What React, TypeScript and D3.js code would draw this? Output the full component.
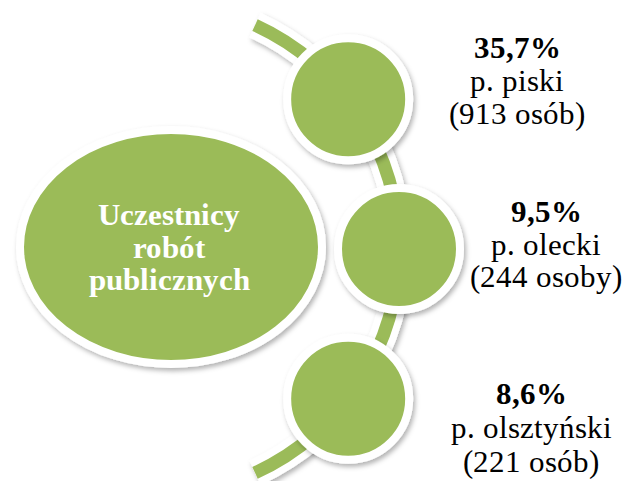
import React from "react";
import * as d3 from "d3";

const WIDTH = 623;
const HEIGHT = 481;

// Data
const centerTitle = ["Uczestnicy", "robót", "publicznych"];
const percents = ["35,7%", "9,5%", "8,6%"];
const districts = ["p. piski", "p. olecki", "p. olsztyński"];
const counts = ["(913 osób)", "(244 osoby)", "(221 osób)"];

// Layout
const GREEN = "#9BBB59";
const arcCx = 153;
const arcCy = 249;
const arcR = 246;
const circleAngles = [-37.5, 0, 37.5]; // degrees, screen (0 = right, positive down)
const circleR = 61;
const labelX = [517, 546, 531];
const labelY0 = [58, 222, 404];
const labelLine = [33, 32.5, 34];

const FONT_CSS = `
@font-face { font-family: "ChartSerif"; font-weight: 400; src: local("Liberation Serif"), local("LiberationSerif"), local("LiberationSerif-Regular"), local("Times New Roman"); }
@font-face { font-family: "ChartSerif"; font-weight: 700; src: local("Liberation Serif Bold"), local("LiberationSerif-Bold"), local("Times New Roman Bold"); }
.serif { font-family: "ChartSerif", "Liberation Serif", "Times New Roman", serif; }
`;

export default function App() {
  const toRad = (d: number) => (d * Math.PI) / 180;
  const outerBand = d3
    .arc()
    .innerRadius(arcR - 13.5)
    .outerRadius(arcR + 13.5)
    .startAngle(toRad(90 - 65.5))
    .endAngle(toRad(90 + 65.5));
  const innerBand = d3
    .arc()
    .innerRadius(arcR - 6.5)
    .outerRadius(arcR + 6.5)
    .startAngle(toRad(90 - 65.5))
    .endAngle(toRad(90 + 65.5));

  const circles = circleAngles.map((a) => ({
    x: arcCx + arcR * Math.cos(toRad(a)),
    y: arcCy + arcR * Math.sin(toRad(a)),
  }));

  return (
    <svg
      width={WIDTH}
      height={HEIGHT}
      style={{ position: "absolute", left: 0, top: 0, background: "#fff" }}
    >
      <style>{FONT_CSS}</style>
      <defs>
        <filter id="shadow" x="-20%" y="-20%" width="140%" height="140%">
          <feDropShadow dx="2" dy="3" stdDeviation="2.5" floodColor="#000" floodOpacity="0.3" />
        </filter>
      </defs>
      <g transform={`translate(${arcCx},${arcCy})`}>
        <path d={outerBand({} as any) as string} fill="#fff" filter="url(#shadow)" />
        <path d={innerBand({} as any) as string} fill={GREEN} />
      </g>
      <ellipse
        cx={171}
        cy={247}
        rx={151}
        ry={117}
        fill={GREEN}
        stroke="#fff"
        strokeWidth={8}
        filter="url(#shadow)"
      />
      {centerTitle.map((t, i) => (
        <text
          key={i}
          className="serif"
          x={169}
          y={225 + i * 32.5}
          fontWeight="bold"
          fontSize={31}
          fill="#fff"
          textAnchor="middle"
        >
          {t}
        </text>
      ))}
      {circles.map((c, i) => (
        <circle
          key={i}
          cx={c.x}
          cy={c.y}
          r={circleR}
          fill={GREEN}
          stroke="#fff"
          strokeWidth={8}
          filter="url(#shadow)"
        />
      ))}
      {percents.map((p, i) => (
        <g key={i} fill="#000" textAnchor="middle">
          <text className="serif" x={labelX[i]} y={labelY0[i]} fontWeight="bold" fontSize={31}>
            {p}
          </text>
          <text className="serif" x={labelX[i]} y={labelY0[i] + labelLine[i]} fontSize={31}>
            {districts[i]}
          </text>
          <text className="serif" x={labelX[i]} y={labelY0[i] + 2 * labelLine[i]} fontSize={31}>
            {counts[i]}
          </text>
        </g>
      ))}
    </svg>
  );
}
